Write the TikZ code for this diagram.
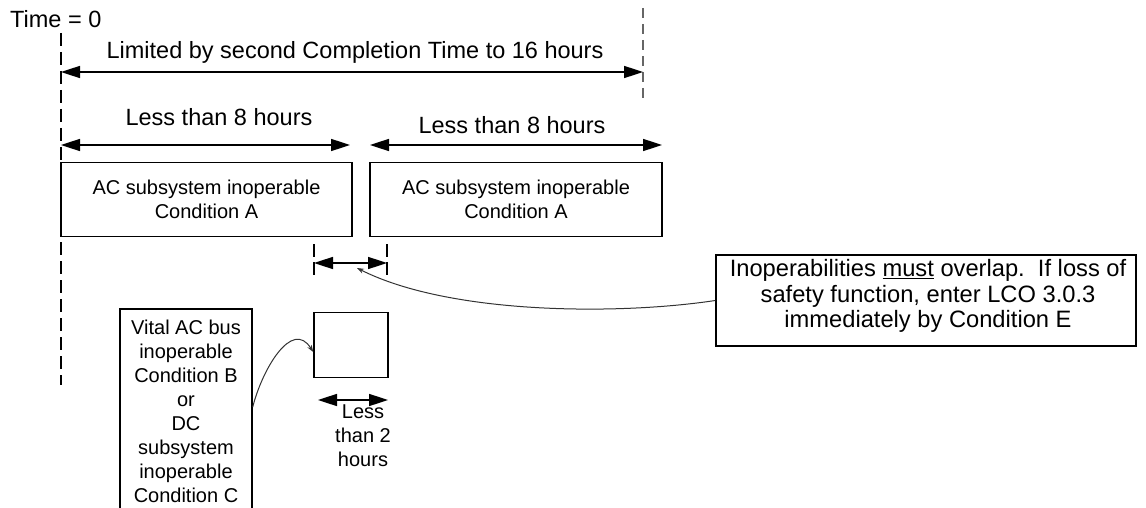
\documentclass[tikz,border=0pt]{standalone}
\usepackage{fontspec}
\setmainfont{Liberation Sans}
\usetikzlibrary{arrows.meta}
\begin{document}
\begin{tikzpicture}[x=1pt,y=-1pt,
  box/.style={draw, line width=1.5pt, inner sep=0pt, align=center, font=\fontsize{20}{24}\selectfont},
  dim/.style={line width=1.6pt, {Triangle[length=19pt,width=12pt]}-{Triangle[length=19pt,width=12pt]}},
  guide/.style={line width=1.6pt, dash pattern=on 13pt off 6pt},
  lbl/.style={font=\fontsize{23.5}{28}\selectfont, inner sep=0pt},
  callout/.style={line width=1pt, black!80, -{Stealth[length=7pt,width=5pt]}}
]
\useasboundingbox (0,0) rectangle (1146,508);
\clip (0,0) rectangle (1146,508);

\node[lbl, anchor=west] (t0) at (10,19) {Time = 0};
\coordinate (g1t) at (61,33); \coordinate (g1b) at (61,385);
\draw[guide] (g1t) -- (g1b);
\coordinate (g2t) at (643,8); \coordinate (g2b) at (643,103);
\draw[guide, black!60, line width=1.3pt, dash pattern=on 10pt off 6pt] (g2t) -- (g2b);

\coordinate (a1l) at (61,72); \coordinate (a1r) at (643,72);
\draw[dim] (a1l) -- (a1r);
\node[lbl] (lim) at (355,52) {Limited by second Completion Time to 16 hours};

\node[lbl] (l8a) at (219,117) {Less than 8 hours};
\node[lbl] (l8b) at (512,125) {Less than 8 hours};
\coordinate (a2l) at (61,145); \coordinate (a2r) at (350,145);
\coordinate (a3l) at (370,145); \coordinate (a3r) at (662,145);
\draw[dim] (a2l) -- (a2r);
\draw[dim] (a3l) -- (a3r);

\node[box, minimum width=291pt, minimum height=74pt] (bA1) at (206.5,199.5) {AC subsystem inoperable\\Condition A};
\node[box, minimum width=292pt, minimum height=74pt] (bA2) at (516,199.5) {AC subsystem inoperable\\Condition A};

\coordinate (k1t) at (314,244); \coordinate (k1b) at (314,277);
\coordinate (k2t) at (387,244); \coordinate (k2b) at (387,277);
\draw[guide, line width=1.3pt, dash pattern=on 13pt off 5pt] (k1t) -- (k1b);
\draw[guide, line width=1.3pt, dash pattern=on 13pt off 5pt] (k2t) -- (k2b);
\coordinate (o1) at (314,263); \coordinate (o2) at (387,263);
\draw[dim] (o1) -- (o2);

\node[draw, line width=1.6pt, minimum width=74pt, minimum height=65pt, inner sep=0pt] (sq) at (351,345) {};
\coordinate (s1) at (318,400); \coordinate (s2) at (388,400);
\draw[dim] (s1) -- (s2);
\node[box, draw=none] (l2) at (363,436) {Less\\than 2\\hours};

\node[box, minimum width=132pt, minimum height=206pt, anchor=north] (vb) at (186,308) {Vital AC bus\\inoperable\\Condition B\\or\\DC\\subsystem\\inoperable\\Condition C};

\node[box, minimum width=420pt, minimum height=91pt] (nb) at (926,300.5) {};
\node[box, draw=none, font=\fontsize{23.7}{25.5}\selectfont] (nbt) at (928,296) {Inoperabilities \underline{must} overlap.\ \ If loss of\\safety function, enter LCO 3.0.3\\immediately by Condition E};

\coordinate (tip1) at (357,268);
\draw[callout] (nb.west) .. controls (620,315) and (450,315) .. (tip1);
\coordinate (tip2) at (sq.west |- 0,352);
\draw[callout] (vb.east |- 0,407) .. controls (262,370) and (292,318) .. (tip2);
\end{tikzpicture}
\end{document}
